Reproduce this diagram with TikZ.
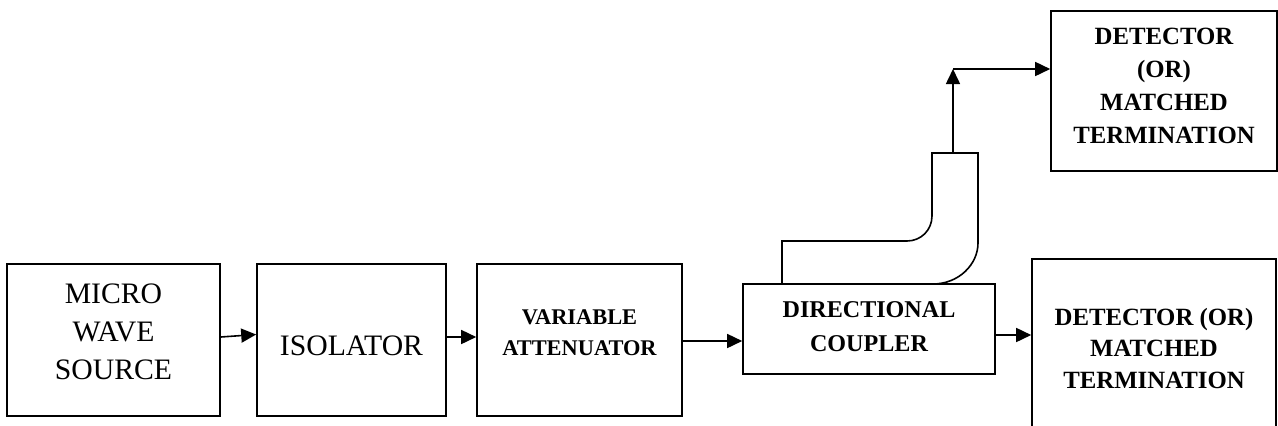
\documentclass[tikz,border=0pt]{standalone}
\usepackage{fontspec}
\setmainfont{Liberation Serif}
\usetikzlibrary{arrows.meta}

\begin{document}
\begin{tikzpicture}[x=1pt, y=-1pt, >={Triangle[length=15pt,width=14pt]},
  blk/.style={draw, line width=1.6pt, align=center, inner sep=0pt},
  arr/.style={->, line width=1.6pt}]
\useasboundingbox (0,0) rectangle (1278,426);
\clip (0,0) rectangle (1278,426);
% main line
\node[blk, minimum width=213pt, minimum height=152pt, text height=96pt, text depth=17pt,
  font=\fontsize{29.7}{38}\selectfont] (src) at (113.5,340) {MICRO\\WAVE\\SOURCE};
\node[blk, minimum width=189pt, minimum height=152pt, text height=30pt, text depth=0pt,
  font=\fontsize{29.7}{38}\selectfont] (iso) at (351.5,340) {ISOLATOR};
\node[blk, minimum width=205pt, minimum height=152pt, text height=46pt, text depth=15pt,
  font=\bfseries\fontsize{22.4}{31}\selectfont] (att) at (579.5,340) {VARIABLE\\ATTENUATOR};
\node[blk, minimum width=252pt, minimum height=90pt, text height=50pt, text depth=6pt,
  font=\bfseries\fontsize{24.1}{34}\selectfont] (dc) at (869,329) {DIRECTIONAL\\COUPLER};
% loads
\node[blk, minimum width=226pt, minimum height=160pt, text height=116pt, text depth=12pt,
  font=\bfseries\fontsize{24.8}{33}\selectfont] (detA) at (1164,91) {DETECTOR\\(OR)\\MATCHED\\TERMINATION};
\node[blk, minimum width=244pt, minimum height=182pt, text height=80pt, text depth=4pt,
  font=\bfseries\fontsize{24.8}{31.5}\selectfont] (detB) at (1154,350) {DETECTOR (OR)\\MATCHED\\TERMINATION};
% bent arm of the coupler
\draw[line width=1.6pt] (782,284) |- (907,241) .. controls (921,241) and (932,230) .. (932,216)
  -- (932,153) -- (978,153) -- (978,243) .. controls (978,265) and (958,284) .. (933,284);
\coordinate (ptop) at (953,153);
\coordinate (bend) at (953,69);
% connections
\draw[arr] ([yshift=3pt]src.east) -- ([yshift=5.5pt]iso.west);
\draw[arr] ([yshift=3pt]iso.east) -- ([yshift=3pt]att.west);
\draw[arr] ([yshift=-1pt]att.east) -- ([yshift=-1pt]att.east -| dc.west);
\draw[arr] ([yshift=-6pt]dc.east) -- ([yshift=-6pt]dc.east -| detB.west);
\draw[arr] (ptop) -- (bend);
\draw[arr] (bend) -- (bend -| detA.west);
\end{tikzpicture}
\end{document}
